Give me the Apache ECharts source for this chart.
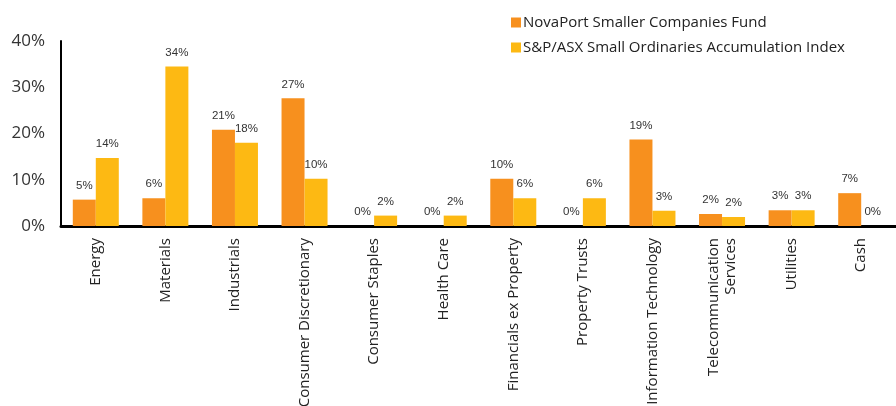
<!DOCTYPE html>
<html><head><meta charset="utf-8">
<script src="https://cdn.jsdelivr.net/npm/echarts@6/dist/echarts.min.js"></script>
<style>html,body{margin:0;padding:0;background:#fff}#c{width:896px;height:406px}</style>
</head><body><div id="c"></div>
<script>
const categories = ['Energy','Materials','Industrials','Consumer Discretionary','Consumer Staples','Health Care','Financials ex Property','Property Trusts','Information Technology','Telecommunication\nServices','Utilities','Cash'];
const fundName = 'NovaPort Smaller Companies Fund';
const indexName = 'S&P/ASX Small Ordinaries Accumulation Index';
const fundValues = [5.7, 6.0, 20.8, 27.6, 0, 0, 10.2, 0, 18.7, 2.6, 3.4, 7.1];
const indexValues = [14.7, 34.5, 18.0, 10.2, 2.25, 2.25, 6.0, 6.0, 3.3, 1.95, 3.4, 0];
const fundLabels = ['5%','6%','21%','27%','0%','0%','10%','0%','19%','2%','3%','7%'];
const indexLabels = ['14%','34%','18%','10%','2%','2%','6%','6%','3%','2%','3%','0%'];
const yTicks = [0, 10, 20, 30, 40];

const chart = echarts.init(document.getElementById('c'), null, {renderer:'canvas'});
const lbl = (arr) => ({show:true, position:'top', distance:8, fontFamily:'Liberation Sans, Arial, sans-serif', fontSize:11.5, color:'#333', formatter:p => arr[p.dataIndex]});
chart.setOption({
  animation:false,
  color:['#F7901E','#FDB913'],
  grid:{left:61, right:0, top:41, bottom:180, containLabel:false, outerBoundsMode:'none'},
  legend:{
    orient:'vertical', left:506, top:10, itemWidth:10, itemHeight:10, itemGap:10,
    icon:'rect',
    textStyle:{fontFamily:'Open Sans', fontSize:15, color:'#222', padding:[0,0,0,-3]},
    data:[fundName, indexName]
  },
  xAxis:{
    type:'category', data:categories,
    axisLine:{lineStyle:{color:'#000', width:3}},
    axisTick:{show:false},
    axisLabel:{rotate:90, interval:0, margin:12, fontFamily:'Open Sans', fontSize:15, color:'#222', lineHeight:17, align:'right'}
  },
  yAxis:{
    type:'value', min:yTicks[0], max:yTicks[yTicks.length-1], interval:10,
    axisLine:{show:true, lineStyle:{color:'#000', width:2}},
    axisTick:{show:false},
    splitLine:{show:false},
    axisLabel:{formatter:'{value}%', fontFamily:'Open Sans', fontSize:17, color:'#333', margin:16}
  },
  series:[
    {name:fundName, type:'bar', data:fundValues, barWidth:23, barGap:'0%', label:lbl(fundLabels)},
    {name:indexName, type:'bar', data:indexValues, barWidth:23, barGap:'0%', label:lbl(indexLabels)}
  ]
});
</script></body></html>
